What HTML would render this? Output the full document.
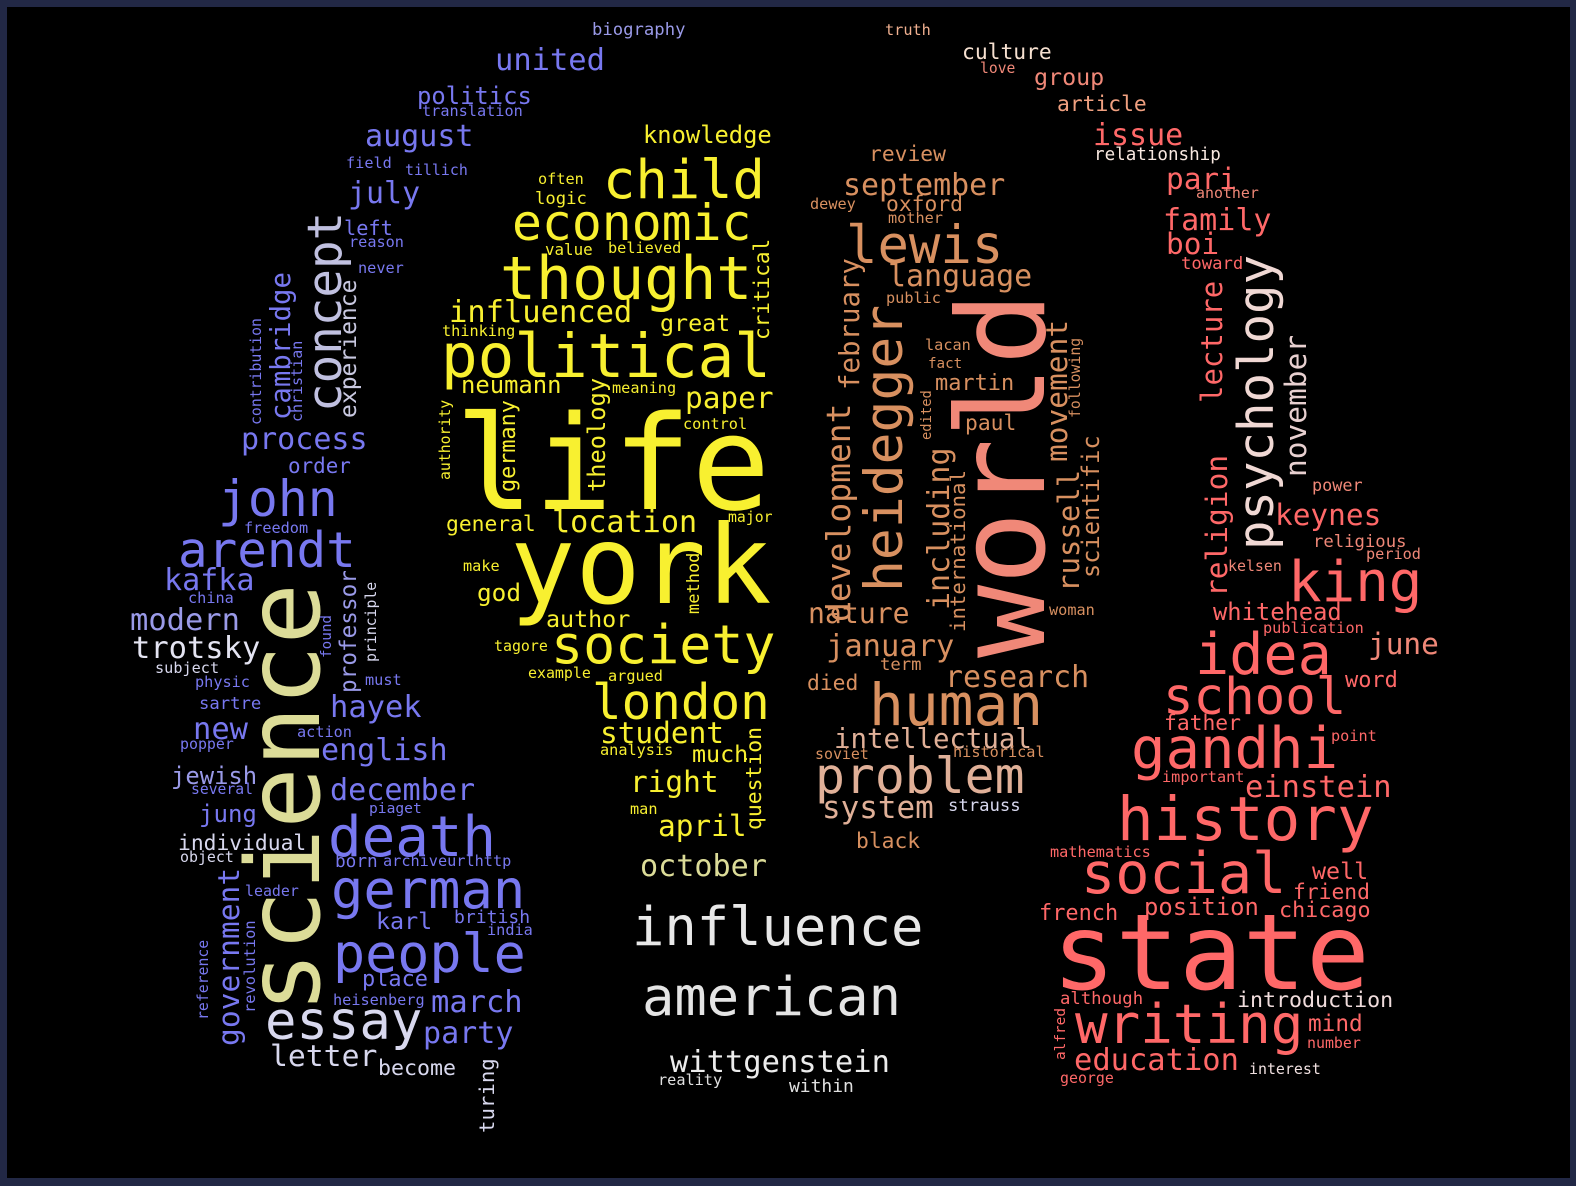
<!DOCTYPE html>
<html><head><meta charset="utf-8">
<style>
html,body{margin:0;padding:0;}
body{width:1576px;height:1186px;background:#222845;position:relative;overflow:hidden;}
#cloud{position:absolute;left:7px;top:7px;width:1563px;height:1171px;background:#000;overflow:hidden;}
.w{position:absolute;white-space:pre;line-height:1;font-family:"DejaVu Sans Mono","Liberation Mono",monospace;transform-origin:0 0;}
</style></head>
<body>
<div id="cloud"></div>
<script>
// words, font sizes (weight), colors, rotation flags
const WORDS=[];const SIZES=[];const COLORS=[];const ROT=[];const PLACE=[];
function add(t,x,y,fs,c,r){WORDS.push(t);SIZES.push(fs);COLORS.push(c);ROT.push(r?1:0);PLACE.push([x,y]);}
const B='#7878f0',LB='#9a9ae8',LT='#d8d8ee',Y='#f8f030',KH='#dcdc98',O='#d89060',TN='#e0b098',S='#f08878',R='#ff6868',PK='#f0d8d4';
// horizontal: x left, y baseline
add('biography',592,33,17,LB);add('truth',885,32,15,'#f0b090');add('united',495,68,30,B);
add('culture',962,56,21,'#f6e0d0');add('love',980,70,14.5,S);add('group',1034,82,23,S);
add('politics',417,101,23.5,B);add('translation',422,113,15,B);add('article',1057,108,21,'#f0a080');
add('august',365,143,29.6,B);add('knowledge',643,140,23.4,Y);add('issue',1093,142,29.5,R);
add('relationship',1094,158,17.3,'#f8e8e0');add('review',869,158,21,O);add('field',346,165,15,B);
add('tillich',405,172,14.7,B);add('child',603,195,53,Y);add('often',538,181,15,Y);
add('september',843,192,29.5,O);add('pari',1166,186,29,R);add('july',348,200,29.5,B);
add('logic',535,202,17,Y);add('another',1196,195,14.7,S);add('dewey',810,206,15,O);
add('oxford',886,208,21,O);add('economic',512,237,49,Y);add('mother',888,220,15,O);
add('family',1163,227,29.6,R);add('left',344,231,20,B);add('reason',349,244,15,B);
add('lewis',846,260,51.5,O);add('value',545,251,15.6,Y);add('believed',608,250,15,Y);
add('boi',1166,251,29,R);add('toward',1181,267,17,R);add('never',358,270,15,B);
add('thought',500,297,59,Y);add('language',888,283,29.5,O);add('public',886,300,15,O);
add('influenced',449,320,30,Y);add('great',660,328,23,Y);add('thinking',442,333,15,Y);
add('political',441,375,60,Y);add('lacan',925,347,15,O);add('fact',928,365,14,O);
add('neumann',461,390,23.5,Y);add('meaning',612,390,15,Y);add('martin',935,388,21.6,O);
add('paper',685,405,29,Y);add('control',683,426,15,Y);add('paul',965,427,21,O);
add('process',241,446,29.6,B);add('order',288,470,20.6,B);add('life',455,506,129,Y);
add('john',218,513,49,B);add('general',446,528,21,Y);add('location',552,530,29.7,Y);
add('major',728,520,14.6,Y);add('freedom',244,530,15,B);add('keynes',1275,522,29,R);
add('power',1312,487,16.6,S);add('religious',1313,545,17,S);add('period',1366,556,15,S);
add('arendt',178,564,48.5,B);add('york',510,600,107,Y);add('make',463,568,15,Y);
add('kelsen',1228,568,14.7,S);add('king',1288,598,55,R);add('kafka',164,587,29.6,B);
add('china',188,600,15,B);add('god',477,598,24,Y);add('nature',808,620,27.7,O);
add('author',546,624,23,Y);add('woman',1049,612,15,O);add('whitehead',1213,617,23.4,R);
add('modern',130,628,30,LB);add('publication',1263,630,15,R);add('society',551,660,52.5,Y);
add('january',826,654,30,O);add('june',1368,651,29,S);add('trotsky',132,656,30,'#e4e4f2');
add('tagore',494,648,14.7,Y);add('idea',1195,671,56,R);add('term',880,668,17,O);
add('research',945,684,29.5,O);add('subject',155,670,15,LT);add('example',528,675,14.7,Y);
add('argued',608,678,15,Y);add('word',1345,685,21.6,R);add('died',807,687,21,O);
add('physic',195,684,15,B);add('must',365,682,15,B);add('london',592,716,48.5,Y);
add('human',869,722,57,O);add('school',1163,711,50,R);add('sartre',199,707,17,B);
add('hayek',330,715,30,B);add('new',193,737,30,B);add('action',297,734,15,B);
add('father',1164,727,21,R);add('student',600,740,29,Y);add('intellectual',834,745,27,TN);
add('popper',180,746,14.7,B);add('english',321,757,29.6,B);add('analysis',600,752,15,Y);
add('much',692,759,23,Y);add('soviet',815,756,14.7,O);add('historical',953,754,15,O);
add('point',1331,738,15,R);add('gandhi',1131,765,56.5,R);add('problem',815,790,49,TN);
add('jewish',171,781,23.5,LB);add('right',630,789,29,Y);add('important',1162,779,15,R);
add('einstein',1245,795,30,R);add('several',191,791,14.5,B);add('december',330,798,29.7,B);
add('piaget',369,810,14.4,B);add('system',822,815,30.5,TN);add('strauss',948,809,17,LT);
add('man',630,811,15,Y);add('jung',199,818,23.7,B);add('history',1117,838,60,R);
add('april',658,833,29,Y);add('death',328,853,55,B);add('individual',178,847,21,LT);
add('black',856,845,21,O);add('object',180,859,14.7,LT);add('born',335,865,17.5,B);
add('archiveurlhttp',383,863,15,B);add('mathematics',1050,854,15,R);add('october',640,874,29.7,KH);
add('social',1081,890,56,R);add('well',1312,876,23,R);add('german',331,905,53,B);
add('leader',245,893,14.7,B);add('friend',1293,896,21,R);add('position',1144,912,23.5,R);
add('chicago',1279,914,21.4,R);add('french',1039,918,21.6,R);add('british',454,920,17.8,B);
add('karl',376,926,23,B);add('india',487,932,15,B);add('influence',632,942,53,'#e8e8e8');
add('state',1052,985,104,R);add('people',333,968,52.6,B);add('place',362,984,21.6,B);
add('american',642,1012,53,'#e4e4e4');add('heisenberg',333,1002,15,B);add('march',431,1010,30,B);
add('although',1060,1002,17,R);add('introduction',1237,1004,21.3,'#f0dcdc');add('essay',265,1036,51.5,LT);
add('party',423,1040,29.6,B);add('writing',1075,1040,53.4,R);add('mind',1308,1028,22.4,R);
add('number',1307,1045,14.7,R);add('letter',270,1063,29.3,LT);add('become',378,1072,21.3,LT);
add('wittgenstein',670,1070,30,'#ececec');add('education',1074,1068,30,R);add('reality',658,1082,15,'#e0e0e0');
add('within',789,1089,17.7,'#e0e0e0');add('interest',1249,1071,14.7,'#f0e0e0');add('george',1060,1080,14.7,R);
// vertical: x baseline, y bottom (text start)
add('science',320,1013,102,KH,1);add('cambridge',291,420,27.3,B,1);add('contribution',263,425,14.8,B,1);
add('christian',303,422,15,B,1);add('concept',342,412,47.5,'#c0c0e0',1);add('experience',357,418,23,'#c8c8e0',1);
add('professor',357,693,22.7,LB,1);add('principle',378,662,14.8,LT,1);add('found',332,658,14.3,B,1);
add('government',240,1046,29.6,B,1);add('revolution',256,1013,15.4,B,1);add('reference',210,1020,14.8,B,1);
add('turing',495,1133,20.7,LT,1);add('authority',452,480,14.8,Y,1);add('germany',516,492,21.8,Y,1);
add('theology',606,492,23.7,Y,1);add('method',700,614,17,Y,1);add('question',762,830,21.4,Y,1);
add('critical',770,340,21,Y,1);add('february',860,390,27.4,O,1);add('development',850,622,33,O,1);
add('heidegger',903,592,53,O,1);add('including',950,610,30,O,1);add('edited',933,440,13.8,O,1);
add('international',966,632,20.7,O,1);add('world',1045,658,121.6,S,1);add('russell',1080,592,29,O,1);
add('movement',1068,462,29.5,O,1);add('following',1082,418,14.8,O,1);add('scientific',1100,578,23.7,O,1);
add('lecture',1223,403,29,R,1);add('religion',1228,597,29.5,R,1);add('psychology',1273,550,49,PK,1);
add('november',1307,477,29.5,'#e8d0d0',1);add('alfred',1066,1060,14.4,R,1);

const cloud=document.getElementById('cloud');
const OX=7,OY=7;
for(let i=0;i<WORDS.length;i++){
  const el=document.createElement('span');
  el.className='w';
  el.textContent=WORDS[i];
  
  
  const [x,y]=PLACE[i];
  if(ROT[i]){
    const fs=SIZES[i];
    el.style.fontSize=fs+'px';
    el.style.left=(x-0.846*fs-OX)+'px';
    el.style.top=(y-OY)+'px';
    el.style.transform='rotate(-90deg)';
  }else{
    const fs=SIZES[i]*1.015;
    el.style.fontSize=fs+'px';
    el.style.left=(x-OX)+'px';
    el.style.top=(y+4-0.846*fs-OY)+'px';
  }
  el.style.color=COLORS[i];
  cloud.appendChild(el);
}
</script>
</body></html>
